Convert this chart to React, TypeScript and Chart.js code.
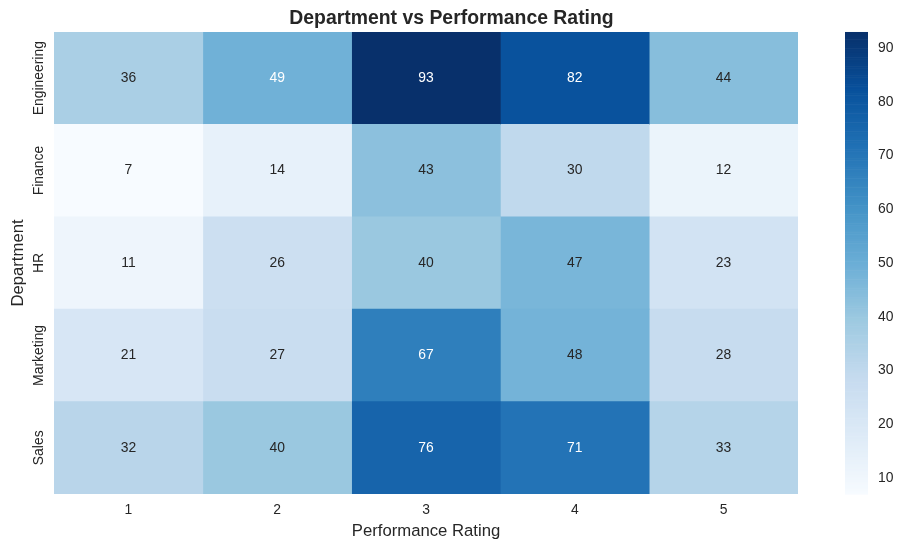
import { useEffect, useRef } from "react";
import { Chart, registerables } from "chart.js";

Chart.register(...registerables);

// ---- data ----
const departments = ["Engineering", "Finance", "HR", "Marketing", "Sales"];
const ratings = ["1", "2", "3", "4", "5"];
const engineering = [36, 49, 93, 82, 44];
const finance = [7, 14, 43, 30, 12];
const hr = [11, 26, 40, 47, 23];
const marketing = [21, 27, 67, 48, 28];
const sales = [32, 40, 76, 71, 33];
const colorbarTicks = [10, 20, 30, 40, 50, 60, 70, 80, 90];

const rows = [engineering, finance, hr, marketing, sales];
const allValues = rows.flat();
const vmin = Math.min(...allValues);
const vmax = Math.max(...allValues);

// matplotlib "Blues"
const BLUES = [
  [247, 251, 255],
  [222, 235, 247],
  [198, 219, 239],
  [158, 202, 225],
  [107, 174, 214],
  [66, 146, 198],
  [33, 113, 181],
  [8, 81, 156],
  [8, 48, 107],
];

function bluesRGB(t: number): number[] {
  const tt = Math.max(0, Math.min(1, t)) * (BLUES.length - 1);
  const i = Math.min(Math.floor(tt), BLUES.length - 2);
  const f = tt - i;
  const a = BLUES[i];
  const b = BLUES[i + 1];
  return [0, 1, 2].map((k) => a[k] + (b[k] - a[k]) * f);
}
function rgbStr(c: number[]) {
  return `rgb(${Math.round(c[0])},${Math.round(c[1])},${Math.round(c[2])})`;
}
function colorFor(v: number) {
  return rgbStr(bluesRGB((v - vmin) / (vmax - vmin)));
}
function luminance(c: number[]) {
  const lin = c.map((x) => {
    const s = x / 255;
    return s <= 0.03928 ? s / 12.92 : Math.pow((s + 0.055) / 1.055, 2.4);
  });
  return 0.2126 * lin[0] + 0.7152 * lin[1] + 0.0722 * lin[2];
}

const FONT = "'Liberation Sans', Arial, sans-serif";
const TEXT = "#262626";

const annotatePlugin = {
  id: "annotate",
  afterDatasetsDraw(chart: any) {
    const { ctx, scales } = chart;
    const xs = scales.x;
    const ys = scales.y;
    ctx.save();
    ctx.font = `13.9px ${FONT}`;
    ctx.textAlign = "center";
    ctx.textBaseline = "middle";
    rows.forEach((row, i) => {
      row.forEach((v, j) => {
        const c = bluesRGB((v - vmin) / (vmax - vmin));
        ctx.fillStyle = luminance(c) > 0.408 ? TEXT : "#ffffff";
        ctx.fillText(String(v), xs.getPixelForValue(Number(ratings[j])), ys.getPixelForValue(i));
      });
    });
    ctx.restore();
  },
  afterDraw(chart: any) {
    const { ctx, scales } = chart;
    const ys = scales.y;
    // y category labels, rotated
    ctx.save();
    ctx.font = `13.9px ${FONT}`;
    ctx.fillStyle = TEXT;
    ctx.textAlign = "center";
    ctx.textBaseline = "middle";
    departments.forEach((d, i) => {
      ctx.save();
      ctx.translate(ys.right - 15, ys.getPixelForValue(i));
      ctx.rotate(-Math.PI / 2);
      ctx.fillText(d, 0, 0);
      ctx.restore();
    });
    ctx.restore();
    // colorbar
    const cb = scales.cb;
    const x0 = cb.left + 47;
    const w = 23;
    const steps = 256;
    ctx.save();
    for (let s = 0; s < steps; s++) {
      const v0 = vmin + ((vmax - vmin) * s) / steps;
      const v1 = vmin + ((vmax - vmin) * (s + 1)) / steps;
      const y0 = cb.getPixelForValue(v0);
      const y1 = cb.getPixelForValue(v1);
      ctx.fillStyle = colorFor((v0 + v1) / 2);
      ctx.fillRect(x0, y1, w, y0 - y1 + 0.6);
    }
    ctx.restore();
  },
};

export default function App() {
  const ref = useRef<HTMLCanvasElement | null>(null);

  useEffect(() => {
    if (!ref.current) return;
    const datasets = ratings.map((r, j) => ({
      label: r,
      data: departments.map(() => [Number(r) - 0.5, Number(r) + 0.5]),
      backgroundColor: departments.map((_, i) => colorFor(rows[i][j])),
      borderWidth: 0,
      barPercentage: 1,
      categoryPercentage: 1,
      grouped: false,
    }));
    const chart = new Chart(ref.current, {
      type: "bar",
      data: { labels: departments, datasets: datasets as any },
      plugins: [annotatePlugin],
      options: {
        indexAxis: "y",
        responsive: false,
        animation: false,
        layout: { padding: 0 },
        plugins: {
          legend: { display: false },
          tooltip: { enabled: false },
          title: {
            display: true,
            text: "Department vs Performance Rating",
            color: TEXT,
            font: { family: FONT, size: 19.4, weight: "bold" },
            padding: { top: 7.5, bottom: 1.2 },
          },
        },
        scales: {
          x: {
            type: "linear",
            position: "bottom",
            min: 0.5,
            max: 5.5,
            afterBuildTicks: (s: any) => {
              s.ticks = ratings.map((r) => ({ value: Number(r) }));
            },
            afterFit: (s: any) => {
              s.height = 54;
            },
            grid: { display: false, drawTicks: true, tickLength: 8 },
            border: { display: false },
            ticks: {
              padding: 0,
              color: TEXT,
              font: { family: FONT, size: 13.9 },
              callback: (v: any) => String(v),
            },
            title: {
              display: true,
              text: "Performance Rating",
              color: TEXT,
              font: { family: FONT, size: 16.7 },
              padding: { top: 0, bottom: 7 },
            },
          },
          y: {
            type: "category",
            position: "left",
            afterFit: (s: any) => {
              s.width = 54;
            },
            grid: { display: false, drawTicks: false },
            border: { display: false },
            ticks: { display: false },
            title: {
              display: true,
              text: "Department",
              color: TEXT,
              font: { family: FONT, size: 16.7 },
              padding: { top: 8, bottom: 0 },
            },
          },
          cb: {
            type: "linear",
            axis: "y",
            position: "right",
            offset: false,
            min: vmin,
            max: vmax,
            afterBuildTicks: (s: any) => {
              s.ticks = colorbarTicks.map((v) => ({ value: v }));
            },
            afterFit: (s: any) => {
              s.width = 105;
            },
            grid: { display: false, offset: false, drawTicks: true, tickLength: 80 },
            border: { display: false },
            ticks: {
              padding: 0,
              color: TEXT,
              font: { family: FONT, size: 13.9 },
              callback: (v: any) => String(v),
            },
          },
        },
      } as any,
    });
    return () => chart.destroy();
  }, []);

  return (
    <div style={{ position: "absolute", left: 0, top: 0, width: 903, height: 548, background: "#ffffff" }}>
      <canvas ref={ref} width={903} height={548} style={{ display: "block" }} />
    </div>
  );
}
